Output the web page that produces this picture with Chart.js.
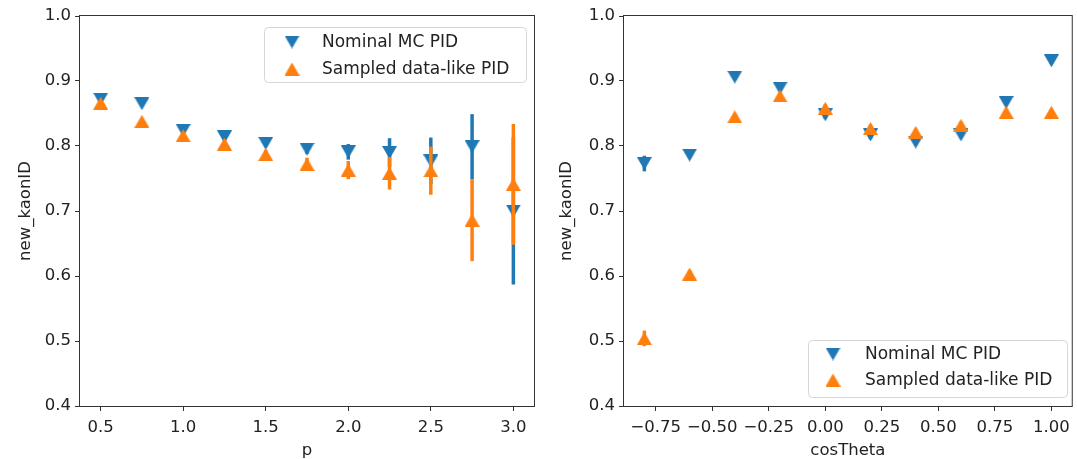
<!DOCTYPE html>
<html>
<head>
<meta charset="utf-8">
<script src="https://cdn.jsdelivr.net/npm/chart.js@4.4.1/dist/chart.umd.min.js"></script>
<style>
  body { margin: 0; background: #fff; }
  .wrap { position: absolute; top: 0; height: 459px; }
  #w1 { left: 0; width: 540px; }
  #w2 { left: 540px; width: 537px; }
</style>
</head>
<body>
<div class="wrap" id="w1"><canvas id="c1" width="540" height="459"></canvas></div>
<div class="wrap" id="w2"><canvas id="c2" width="537" height="459"></canvas></div>
<script>
// Left panel: efficiency vs momentum
const pValues = [0.5, 0.75, 1.0, 1.25, 1.5, 1.75, 2.0, 2.25, 2.5, 2.75, 3.0];
const pNominal = [0.872, 0.865, 0.824, 0.814, 0.804, 0.795, 0.791, 0.790, 0.777, 0.799, 0.700];
const pNominalErr = [0.003, 0.003, 0.004, 0.004, 0.005, 0.007, 0.012, 0.022, 0.036, 0.050, 0.113];
const pSampled = [0.866, 0.838, 0.816, 0.803, 0.787, 0.772, 0.763, 0.758, 0.762, 0.686, 0.741];
const pSampledErr = [0.003, 0.004, 0.005, 0.006, 0.007, 0.010, 0.014, 0.025, 0.037, 0.063, 0.093];
const pTicks = [0.5, 1.0, 1.5, 2.0, 2.5, 3.0];
const pTickLabels = ['0.5', '1.0', '1.5', '2.0', '2.5', '3.0'];

// Right panel: efficiency vs cosTheta
const cosValues = [-0.8, -0.6, -0.4, -0.2, 0.0, 0.2, 0.4, 0.6, 0.8, 1.0];
const cosNominal = [0.773, 0.786, 0.906, 0.889, 0.848, 0.817, 0.806, 0.817, 0.867, 0.931];
const cosNominalErr = [0.012, 0.004, 0.004, 0.004, 0.006, 0.006, 0.004, 0.004, 0.004, 0.004];
const cosSampled = [0.504, 0.603, 0.845, 0.877, 0.858, 0.827, 0.821, 0.832, 0.852, 0.852];
const cosSampledErr = [0.012, 0.006, 0.004, 0.004, 0.006, 0.006, 0.005, 0.005, 0.004, 0.004];
const cosTicks = [-0.75, -0.5, -0.25, 0.0, 0.25, 0.5, 0.75, 1.0];
const cosTickLabels = ['\u22120.75', '\u22120.50', '\u22120.25', '0.00', '0.25', '0.50', '0.75', '1.00'];

const yTicks = [0.4, 0.5, 0.6, 0.7, 0.8, 0.9, 1.0];
const seriesNames = ['Nominal MC PID', 'Sampled data-like PID'];

const BLUE = '#1f77b4';
const ORANGE = '#ff7f0e';
const FONT = 'DejaVu Sans, sans-serif';
const TEXT = '#222';

function pairs(xs, ys) {
    return xs.map((x, i) => ({ x: x, y: ys[i] }));
}

// triangle marker centred on its bounding box, like matplotlib
function markerCanvas(color, down) {
    const w = 15, h = 13;
    const c = document.createElement('canvas');
    c.width = w; c.height = h;
    const g = c.getContext('2d');
    g.fillStyle = color;
    g.beginPath();
    if (down) {
        g.moveTo(0, 0); g.lineTo(w, 0); g.lineTo(w / 2, h);
    } else {
        g.moveTo(w / 2, 0); g.lineTo(w, h); g.lineTo(0, h);
    }
    g.closePath();
    g.fill();
    return c;
}
const downMarker = markerCanvas(BLUE, true);
const upMarker = markerCanvas(ORANGE, false);

// error bars drawn just before each dataset's markers
const errorBars = {
    id: 'errorBars',
    beforeDatasetDraw(chart, args) {
        const ds = chart.data.datasets[args.index];
        if (!ds.errors) return;
        const ctx = chart.ctx;
        const xs = chart.scales.x, ys = chart.scales.y;
        ctx.save();
        ctx.strokeStyle = ds.barColor;
        ctx.lineWidth = 3.5;
        ds.data.forEach((pt, i) => {
            const e = ds.errors[i];
            const px = xs.getPixelForValue(pt.x);
            ctx.beginPath();
            ctx.moveTo(px, ys.getPixelForValue(pt.y - e));
            ctx.lineTo(px, ys.getPixelForValue(pt.y + e));
            ctx.stroke();
        });
        ctx.restore();
    }
};

// matplotlib-like frame and legend
const frameAndLegend = {
    id: 'frameAndLegend',
    afterDraw(chart, args, opts) {
        const ctx = chart.ctx;
        const a = chart.chartArea;
        ctx.save();
        ctx.strokeStyle = '#333';
        ctx.lineWidth = 1;
        ctx.strokeRect(a.left - 0.5, a.top - 0.5, a.right - a.left + 1, a.bottom - a.top + 1);

        const b = opts.box;
        ctx.beginPath();
        ctx.roundRect(b.x + 0.5, b.y + 0.5, b.w, b.h, 4);
        ctx.fillStyle = 'rgba(255,255,255,0.8)';
        ctx.fill();
        ctx.strokeStyle = '#d6d6d6';
        ctx.stroke();

        ctx.font = '17px ' + FONT;
        ctx.textBaseline = 'middle';
        const markers = [downMarker, upMarker];
        seriesNames.forEach((name, i) => {
            const cy = b.y + opts.rowY[i];
            const m = markers[i];
            ctx.drawImage(m, b.x + opts.markerX - m.width / 2, cy - m.height / 2);
            ctx.fillStyle = TEXT;
            ctx.fillText(name, b.x + opts.textX, cy + 1);
        });
        ctx.restore();
    }
};

function makeChart(id, xs, nominal, nominalErr, sampled, sampledErr, xCfg, legendCfg) {
    const ctx = document.getElementById(id).getContext('2d');
    return new Chart(ctx, {
        type: 'scatter',
        data: {
            datasets: [{
                label: seriesNames[0],
                data: pairs(xs, nominal),
                errors: nominalErr,
                barColor: BLUE,
                backgroundColor: BLUE,
                pointStyle: downMarker,
                order: 2
            }, {
                label: seriesNames[1],
                data: pairs(xs, sampled),
                errors: sampledErr,
                barColor: ORANGE,
                backgroundColor: ORANGE,
                pointStyle: upMarker,
                order: 1
            }]
        },
        options: {
            responsive: false,
            animation: false,
            devicePixelRatio: 1,
            layout: { padding: { top: 16, right: xCfg.padRight, left: 0, bottom: 0 } },
            plugins: {
                legend: { display: false },
                tooltip: { enabled: false },
                frameAndLegend: legendCfg
            },
            scales: {
                x: {
                    type: 'linear',
                    min: xCfg.min,
                    max: xCfg.max,
                    afterBuildTicks: scale => { scale.ticks = xCfg.ticks.map(v => ({ value: v })); },
                    afterFit: scale => { scale.height = 53; },
                    grid: { drawOnChartArea: false, tickLength: 5, tickColor: '#333' },
                    border: { display: false },
                    ticks: {
                        padding: 7,
                        color: TEXT,
                        maxRotation: 0,
                        autoSkip: false,
                        font: { family: FONT, size: 16.5 },
                        callback: (v, i) => xCfg.labels[i]
                    },
                    title: {
                        display: true,
                        text: xCfg.title,
                        color: TEXT,
                        padding: { top: 0, bottom: 0 },
                        font: { family: FONT, size: 16.5, lineHeight: 1.0 }
                    }
                },
                y: {
                    min: 0.4,
                    max: 1.0,
                    afterBuildTicks: scale => { scale.ticks = yTicks.map(v => ({ value: v })); },
                    afterFit: scale => { scale.width = xCfg.yWidth; },
                    grid: { drawOnChartArea: false, tickLength: 5, tickColor: '#333' },
                    border: { display: false },
                    ticks: {
                        padding: 4,
                        color: TEXT,
                        autoSkip: false,
                        font: { family: FONT, size: 16.5 },
                        callback: v => v.toFixed(1)
                    },
                    title: {
                        display: true,
                        text: 'new_kaonID',
                        color: TEXT,
                        padding: { top: xCfg.yTitlePad, bottom: 0 },
                        font: { family: FONT, size: 16.5, lineHeight: 1.2 }
                    }
                }
            }
        },
        plugins: [errorBars, frameAndLegend]
    });
}

makeChart('c1', pValues, pNominal, pNominalErr, pSampled, pSampledErr,
    { min: 0.375, max: 3.125, ticks: pTicks, labels: pTickLabels, title: 'p',
      padRight: 6, yWidth: 80, yTitlePad: 16 },
    { box: { x: 264, y: 27, w: 262, h: 55 }, markerX: 28, textX: 58, rowY: [15, 42] });

makeChart('c2', cosValues, cosNominal, cosNominalErr, cosSampled, cosSampledErr,
    { min: -0.89, max: 1.09, ticks: cosTicks, labels: cosTickLabels, title: 'cosTheta',
      padRight: 1, yWidth: 84, yTitlePad: 17 },
    { box: { x: 268, y: 340, w: 259, h: 57 }, markerX: 25, textX: 57, rowY: [14, 40] });
</script>
</body>
</html>
